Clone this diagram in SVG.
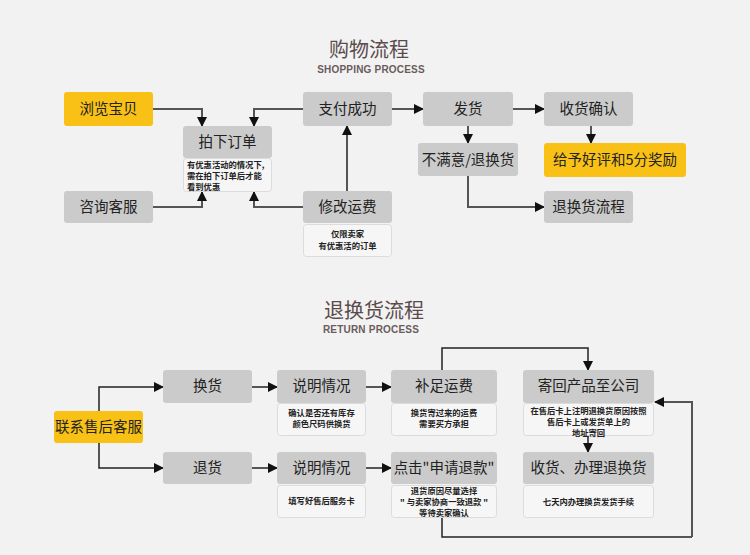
<svg xmlns="http://www.w3.org/2000/svg" width="750" height="555" viewBox="0 0 750 555">
<defs>
<marker id="a1" markerUnits="userSpaceOnUse" markerWidth="10" markerHeight="10" refX="9" refY="5" orient="auto"><path d="M0,0 L10,5 L0,10 z" fill="#111"/></marker>
<marker id="a2" markerUnits="userSpaceOnUse" markerWidth="10" markerHeight="10" refX="9" refY="5" orient="auto"><path d="M0,0 L10,5 L0,10 z" fill="#111"/></marker>
</defs>
<style>
text{font-family:"Noto Sans CJK SC","Noto Sans",sans-serif;}
.box{fill:#cbcbcb;}
.yel{fill:#f9c116;}
.note{fill:#f6f6f6;stroke:#dcdcdc;stroke-width:1;}
.lbl{font-size:14.5px;fill:#222;text-anchor:middle;}
.nt{font-size:8.3px;font-weight:bold;fill:#222;}
.ntc{font-size:8.3px;font-weight:bold;fill:#222;text-anchor:middle;}
.title{font-size:20px;fill:#5a4c4c;text-anchor:middle;}
.sub{font-family:"Liberation Sans",Arial,sans-serif;font-size:10px;letter-spacing:0.2px;font-weight:bold;fill:#6a5c5c;text-anchor:middle;}
.c1{fill:none;stroke:#555;stroke-width:2;marker-end:url(#a1);}
.c2{fill:none;stroke:#222;stroke-width:1.5;marker-end:url(#a2);}
.c2n{fill:none;stroke:#222;stroke-width:1.5;}
</style>
<rect width="750" height="555" fill="#f2f2f2"/>

<text class="title" x="369" y="57">购物流程</text>
<text class="sub" x="371" y="73">SHOPPING PROCESS</text>
<text class="title" x="374" y="318">退换货流程</text>
<text class="sub" x="371" y="333">RETURN PROCESS</text>

<g id="connectors">
<path class="c1" d="M153,109 H202 V126"/>
<path class="c1" d="M303,109 H254 V126"/>
<path class="c1" d="M153,207 H202 V192"/>
<path class="c1" d="M303,207 H254 V192"/>
<path class="c1" d="M347,191 V126"/>
<path class="c1" d="M392,109 H423"/>
<path class="c1" d="M513,109 H544"/>
<path class="c1" d="M468,126 V143"/>
<path class="c1" d="M591,126 V143"/>
<path class="c1" d="M468,176 V207 H544"/>

<path class="c2" d="M99,411 V387 H163"/>
<path class="c2" d="M99,443 V468 H163"/>
<path class="c2" d="M252,387 H277"/>
<path class="c2" d="M252,468 H277"/>
<path class="c2" d="M366,387 H391"/>
<path class="c2" d="M366,468 H391"/>
<path class="c2" d="M442,370 V348 H588 V370"/>
<path class="c2" d="M588,436 V452"/>
<path class="c2n" d="M442,517 V537 H692"/>
<path class="c1" d="M692,537 V402 H655"/>
</g>

<g id="n-browse"><rect class="yel" x="64" y="92" width="89" height="34" rx="3"/><text class="lbl" x="108.5" y="114">浏览宝贝</text></g>
<g id="n-order"><rect class="box" x="183" y="126" width="89" height="32" rx="3"/><text class="lbl" x="227.5" y="147">拍下订单</text>
<rect class="note" x="183.5" y="158.5" width="88" height="33" rx="3"/>
<text class="nt" x="187" y="168">有优惠活动的情况下,</text><text class="nt" x="187" y="179">需在拍下订单后才能</text><text class="nt" x="187" y="190">看到优惠</text></g>
<g id="n-consult"><rect class="box" x="64" y="191" width="89" height="32" rx="3"/><text class="lbl" x="108.5" y="212">咨询客服</text></g>
<g id="n-paid"><rect class="box" x="303" y="92" width="89" height="34" rx="3"/><text class="lbl" x="347.5" y="114">支付成功</text></g>
<g id="n-fee"><rect class="box" x="303" y="191" width="89" height="32" rx="3"/><text class="lbl" x="347.5" y="212">修改运费</text>
<rect class="note" x="303.5" y="224.5" width="88" height="32" rx="3"/>
<text class="ntc" x="347.5" y="237">仅限卖家</text><text class="ntc" x="347.5" y="249">有优惠活的订单</text></g>
<g id="n-ship"><rect class="box" x="423" y="92" width="90" height="34" rx="3"/><text class="lbl" x="468" y="114">发货</text></g>
<g id="n-receive"><rect class="box" x="544" y="92" width="89" height="34" rx="3"/><text class="lbl" x="588.5" y="114">收货确认</text></g>
<g id="n-unhappy"><rect class="box" x="418" y="143" width="100" height="33" rx="3"/><text class="lbl" x="468" y="165">不满意/退换货</text></g>
<g id="n-praise"><rect class="yel" x="544" y="143" width="142" height="34" rx="3"/><text class="lbl" x="615" y="165">给予好评和5分奖励</text></g>
<g id="n-returnflow"><rect class="box" x="544" y="191" width="89" height="32" rx="3"/><text class="lbl" x="588.5" y="212">退换货流程</text></g>

<g id="n-contact"><rect class="yel" x="54" y="411" width="89" height="32" rx="3"/><text class="lbl" x="98.5" y="432">联系售后客服</text></g>
<g id="n-exchange"><rect class="box" x="163" y="370" width="89" height="33" rx="3"/><text class="lbl" x="207.5" y="391">换货</text></g>
<g id="n-refund"><rect class="box" x="163" y="452" width="89" height="32" rx="3"/><text class="lbl" x="207.5" y="473">退货</text></g>
<g id="n-explain1"><rect class="box" x="277" y="370" width="89" height="33" rx="3"/><text class="lbl" x="321.5" y="391">说明情况</text>
<rect class="note" x="277.5" y="403.5" width="88" height="32" rx="3"/>
<text class="ntc" x="321.5" y="416">确认是否还有库存</text><text class="ntc" x="321.5" y="427">颜色尺码供换货</text></g>
<g id="n-explain2"><rect class="box" x="277" y="452" width="89" height="32" rx="3"/><text class="lbl" x="321.5" y="473">说明情况</text>
<rect class="note" x="277.5" y="485.5" width="88" height="32" rx="3"/>
<text class="ntc" x="321.5" y="504">填写好售后服务卡</text></g>
<g id="n-topup"><rect class="box" x="391" y="370" width="106" height="33" rx="3"/><text class="lbl" x="444" y="391">补足运费</text>
<rect class="note" x="391.5" y="403.5" width="105" height="32" rx="3"/>
<text class="ntc" x="444" y="416">换货寄过来的运费</text><text class="ntc" x="444" y="427">需要买方承担</text></g>
<g id="n-apply"><rect class="box" x="391" y="452" width="106" height="32" rx="3"/><text class="lbl" x="444" y="473">点击"申请退款"</text>
<rect class="note" x="391.5" y="485.5" width="105" height="32" rx="3"/>
<text class="ntc" x="444" y="494">退货原因尽量选择</text><text class="ntc" x="444" y="505">" 与卖家协商一致退款 "</text><text class="ntc" x="444" y="516">等待卖家确认</text></g>
<g id="n-sendback"><rect class="box" x="523" y="370" width="131" height="33" rx="3"/><text class="lbl" x="588.5" y="391">寄回产品至公司</text>
<rect class="note" x="523.5" y="403.5" width="130" height="32" rx="3"/>
<text class="ntc" x="588.5" y="414">在售后卡上注明退换货原因按照</text><text class="ntc" x="588.5" y="425">售后卡上或发货单上的</text><text class="ntc" x="588.5" y="436">地址寄回</text></g>
<g id="n-process"><rect class="box" x="523" y="452" width="131" height="32" rx="3"/><text class="lbl" x="588.5" y="473">收货、办理退换货</text>
<rect class="note" x="523.5" y="485.5" width="130" height="32" rx="3"/>
<text class="ntc" x="588.5" y="505">七天内办理换货发货手续</text></g>
</svg>
